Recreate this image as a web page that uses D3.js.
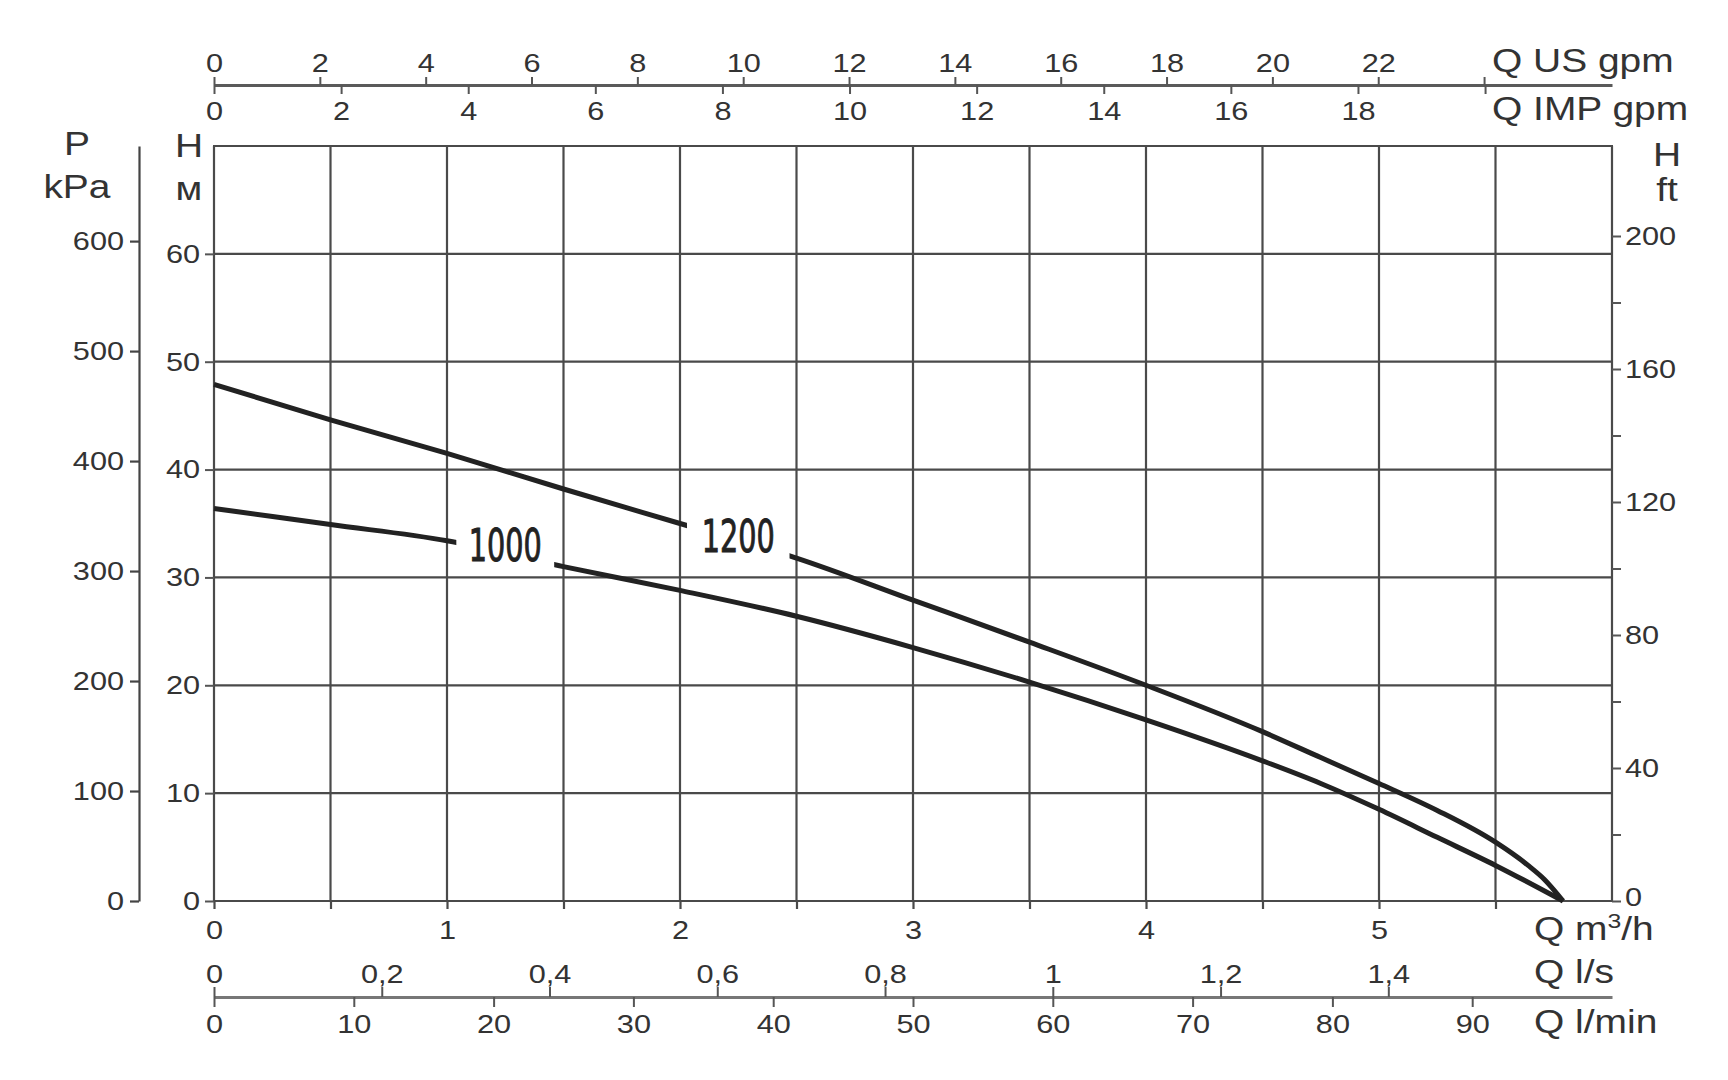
<!DOCTYPE html>
<html>
<head>
<meta charset="utf-8">
<script src="https://cdn.jsdelivr.net/npm/d3@7"></script>
<style>
  body { margin: 0; background: #fff; }
  svg text { font-family: "Liberation Sans", Arial, sans-serif; fill: #333; }
  .grid line { stroke: #4a4a4a; stroke-width: 2.2; }
  .axis path, .axis line { stroke: #555; }
  .axis text { font-size: 26px; }
  .unit { font-size: 33px; }
  .w-mid, .w-end, .w-start { transform-box: fill-box; transform: scaleX(1.18); }
  .w-mid { transform-origin: center; }
  .w-end { transform-origin: right center; }
  .w-start { transform-origin: left center; }
  .curve { fill: none; stroke: #222; stroke-width: 5; stroke-linecap: butt; }
  .curve-label { font-family: "Liberation Sans Narrow", "DejaVu Sans Condensed", sans-serif; font-size: 44px; fill: #222; stroke: #222; stroke-width: 0.9; }
</style>
</head>
<body>
<div id="chart"></div>
<script>
// pump curves, Q in m3/h, H in m
var flow1000 = [0, 0.5, 1, 1.5, 2, 2.5, 3, 3.5, 4, 4.5, 4.75, 5, 5.25, 5.5, 5.79];
var head1000 = [36.4, 34.9, 33.4, 31.0, 28.8, 26.4, 23.5, 20.3, 16.8, 13.0, 10.9, 8.5, 5.9, 3.3, 0];
var flow1200 = [0, 0.5, 1, 1.5, 2, 2.5, 3, 3.5, 4, 4.5, 4.75, 5, 5.25, 5.5, 5.64, 5.71, 5.79];
var head1200 = [47.9, 44.6, 41.5, 38.2, 35.0, 31.8, 27.9, 24.0, 20.0, 15.7, 13.3, 10.9, 8.4, 5.45, 3.3, 2.0, 0];

var curveNames = ["1000", "1200"];
var labelFlow = [1.25, 2.25];
var labelHead = [31.5, 32.4];
var gapFrom = [1.04, 2.03];
var gapTo = [1.46, 2.47];

// tick values
var flowGrid = [0, 0.5, 1, 1.5, 2, 2.5, 3, 3.5, 4, 4.5, 5, 5.5, 6];
var flowLabels = [0, 1, 2, 3, 4, 5];
var headGrid = [0, 10, 20, 30, 40, 50, 60, 70];
var headLabels = [0, 10, 20, 30, 40, 50, 60];
var kpaLabels = [0, 100, 200, 300, 400, 500, 600];
var ftTicks = [0, 20, 40, 60, 80, 100, 120, 140, 160, 180, 200];
var ftLabels = [0, 40, 80, 120, 160, 200];
var usGpmTicks = [0, 2, 4, 6, 8, 10, 12, 14, 16, 18, 20, 22, 24];
var usGpmLabels = [0, 2, 4, 6, 8, 10, 12, 14, 16, 18, 20, 22];
var impGpmTicks = [0, 2, 4, 6, 8, 10, 12, 14, 16, 18, 20];
var impGpmLabels = [0, 2, 4, 6, 8, 10, 12, 14, 16, 18];
var lsTicks = [0, 0.2, 0.4, 0.6, 0.8, 1, 1.2, 1.4];
var lminTicks = [0, 10, 20, 30, 40, 50, 60, 70, 80, 90];

var USGPM_PER_M3H = 4.4029;
var IMPGPM_PER_M3H = 3.6662;
var LS_PER_M3H = 1 / 3.6;
var LMIN_PER_M3H = 1000 / 60;
var KPA_PER_M = 9.80665;

/**
 * Pump chart
 * @param {Object} attrs
 *  @curves
 */
function PumpChart( attrs ) {
  'use strict';

  this.element = document.getElementById('chart');
  this.curves = (attrs && attrs.curves) ? attrs.curves : [];

  this.plot = {left: 214, right: 1612, top: 146, bottom: 901};
  this.qMax = 6;
  this.hMax = 70;

  this.x = d3.scaleLinear()
    .domain([0, this.qMax])
    .range([this.plot.left, this.plot.right]);

  this.y = d3.scaleLinear()
    .domain([0, this.hMax])
    .range([this.plot.bottom, this.plot.top]);

  this.svg = d3.select(this.element).append("svg")
    .attr("width", 1728)
    .attr("height", 1080);
}

PumpChart.prototype.secondary = function( factor ) {
  'use strict';
  return d3.scaleLinear()
    .domain([0, this.qMax * factor])
    .range(this.x.range());
};

PumpChart.prototype.draw = function() {
  'use strict';

  var self = this;
  var svg = this.svg;
  var p = this.plot;
  var commaFmt = d3.formatLocale({decimal: ",", thousands: " ", grouping: [3], currency: ["", ""]}).format(".1~f");

  svg.append("rect")
    .attr("width", 1728)
    .attr("height", 1080)
    .attr("fill", "#fff");

  // grid
  var grid = svg.append("g").attr("class", "grid");
  grid.selectAll("line.v")
    .data(flowGrid)
    .enter()
    .append("line")
    .attr("x1", function(d) { return self.x(d); })
    .attr("x2", function(d) { return self.x(d); })
    .attr("y1", p.top)
    .attr("y2", p.bottom);
  grid.selectAll("line.h")
    .data(headGrid)
    .enter()
    .append("line")
    .attr("x1", p.left - 1)
    .attr("x2", p.right + 1)
    .attr("y1", function(d) { return self.y(d); })
    .attr("y2", function(d) { return self.y(d); });

  // bottom m3/h
  var xAxis = svg.append("g")
    .attr("class", "axis")
    .attr("transform", "translate(0," + p.bottom + ")")
    .call(d3.axisBottom(this.x)
      .tickValues(flowGrid.slice(0, -1))
      .tickSize(8)
      .tickPadding(12)
      .tickFormat(function(d) { return flowLabels.indexOf(d) >= 0 ? d : ""; }));
  xAxis.select(".domain").remove();
  xAxis.selectAll("line").style("stroke", "#4a4a4a").style("stroke-width", 2.2);
  xAxis.selectAll("text").attr("class", "w-mid");

  // left H axis
  var yAxis = svg.append("g")
    .attr("class", "axis")
    .attr("transform", "translate(" + p.left + ",0)")
    .call(d3.axisLeft(this.y)
      .tickValues(headLabels)
      .tickSize(9)
      .tickPadding(5));
  yAxis.select(".domain").remove();
  yAxis.selectAll("line").style("stroke-width", 2);
  yAxis.selectAll("text").attr("class", "w-end");

  // pressure axis
  var yKpa = d3.scaleLinear()
    .domain([0, this.hMax * KPA_PER_M])
    .range([p.bottom, p.top]);
  var kpaAxis = svg.append("g")
    .attr("class", "axis")
    .attr("transform", "translate(139,0)")
    .call(d3.axisLeft(yKpa)
      .tickValues(kpaLabels)
      .tickSize(9)
      .tickSizeOuter(0)
      .tickPadding(6));
  kpaAxis.selectAll("path, line").style("stroke-width", 2.2).style("stroke", "#444");
  kpaAxis.selectAll("text").attr("class", "w-end");

  // right ft axis, drawn as printed on the sheet
  var yFt = d3.scaleLinear()
    .domain([0, 200])
    .range([p.bottom, 236]);
  var ftAxis = svg.append("g")
    .attr("class", "axis")
    .attr("transform", "translate(" + p.right + ",0)")
    .call(d3.axisRight(yFt)
      .tickValues(ftTicks)
      .tickSize(9)
      .tickPadding(4)
      .tickFormat(function(d) { return ftLabels.indexOf(d) >= 0 ? d : ""; }));
  ftAxis.select(".domain").remove();
  ftAxis.selectAll("line").style("stroke-width", 2);
  ftAxis.selectAll("text").attr("class", "w-start");
  ftAxis.selectAll(".tick")
    .filter(function(d) { return d === 0; })
    .select("text")
    .attr("dy", "0.18em");

  // top gpm axes
  var topY = 85;
  var usAxis = svg.append("g")
    .attr("class", "axis")
    .attr("transform", "translate(0," + topY + ")")
    .call(d3.axisTop(this.secondary(USGPM_PER_M3H))
      .tickValues(usGpmTicks)
      .tickSize(8)
      .tickSizeOuter(0)
      .tickPadding(5)
      .tickFormat(function(d) { return usGpmLabels.indexOf(d) >= 0 ? d : ""; }));
  usAxis.select(".domain").style("stroke", "#5a5a5a").style("stroke-width", 3);
  usAxis.selectAll("line").style("stroke-width", 2);
  usAxis.selectAll("text").attr("class", "w-mid");

  var impAxis = svg.append("g")
    .attr("class", "axis")
    .attr("transform", "translate(0," + topY + ")")
    .call(d3.axisBottom(this.secondary(IMPGPM_PER_M3H))
      .tickValues(impGpmTicks)
      .tickSize(9)
      .tickPadding(8)
      .tickFormat(function(d) { return impGpmLabels.indexOf(d) >= 0 ? d : ""; }));
  impAxis.select(".domain").remove();
  impAxis.selectAll("line").style("stroke-width", 2);
  impAxis.selectAll("text").attr("class", "w-mid");

  // bottom l/s and l/min axes
  var lowY = 997;
  var lsAxis = svg.append("g")
    .attr("class", "axis")
    .attr("transform", "translate(0," + lowY + ")")
    .call(d3.axisTop(this.secondary(LS_PER_M3H))
      .tickValues(lsTicks)
      .tickSize(10)
      .tickSizeOuter(0)
      .tickPadding(4)
      .tickFormat(commaFmt));
  lsAxis.select(".domain").style("stroke", "#777").style("stroke-width", 3);
  lsAxis.selectAll("line").style("stroke-width", 2);
  lsAxis.selectAll("text").attr("class", "w-mid");

  var lminAxis = svg.append("g")
    .attr("class", "axis")
    .attr("transform", "translate(0," + lowY + ")")
    .call(d3.axisBottom(this.secondary(LMIN_PER_M3H))
      .tickValues(lminTicks)
      .tickSize(10)
      .tickPadding(8));
  lminAxis.select(".domain").remove();
  lminAxis.selectAll("line").style("stroke-width", 2);
  lminAxis.selectAll("text").attr("class", "w-mid");

  // unit labels
  var units = [
    {t: "P", x: 77, y: 155, a: "middle"},
    {t: "kPa", x: 77, y: 198, a: "middle"},
    {t: "H", x: 189, y: 157, a: "middle"},
    {t: "м", x: 189, y: 200, a: "middle"},
    {t: "H", x: 1667, y: 166, a: "middle"},
    {t: "ft", x: 1667, y: 201, a: "middle"},
    {t: "Q US gpm", x: 1492, y: 72, a: "start"},
    {t: "Q IMP gpm", x: 1492, y: 120, a: "start"},
    {t: "Q l/s", x: 1534, y: 983, a: "start"},
    {t: "Q l/min", x: 1534, y: 1033, a: "start"}
  ];
  svg.selectAll("text.unit")
    .data(units)
    .enter()
    .append("text")
    .attr("class", function(d) { return "unit " + (d.a === "start" ? "w-start" : "w-mid"); })
    .attr("x", function(d) { return d.x; })
    .attr("y", function(d) { return d.y; })
    .attr("text-anchor", function(d) { return d.a; })
    .text(function(d) { return d.t; });

  var qm = svg.append("text")
    .attr("class", "unit w-start")
    .attr("x", 1534)
    .attr("y", 940);
  qm.append("tspan").text("Q m");
  qm.append("tspan").attr("dy", -12).style("font-size", "21px").text("3");
  qm.append("tspan").attr("dy", 12).text("/h");

  // curves
  var line = d3.line()
    .x(function(d) { return self.x(d.q); })
    .y(function(d) { return self.y(d.h); })
    .curve(d3.curveMonotoneX);

  var defs = svg.append("defs");
  this.curves.forEach(function(c, i) {
    var mask = defs.append("mask")
      .attr("id", "gap" + i)
      .attr("maskUnits", "userSpaceOnUse")
      .attr("x", 0).attr("y", 0)
      .attr("width", 1728).attr("height", 1080);
    mask.append("rect")
      .attr("width", 1728).attr("height", 1080)
      .attr("fill", "#fff");
    mask.append("rect")
      .attr("x", self.x(gapFrom[i]))
      .attr("width", self.x(gapTo[i]) - self.x(gapFrom[i]))
      .attr("y", 0).attr("height", 1080)
      .attr("fill", "#000");

    var pts = c.flow.map(function(q, j) { return {q: q, h: c.head[j]}; });
    svg.append("path")
      .datum(pts)
      .attr("class", "curve")
      .attr("mask", "url(#gap" + i + ")")
      .attr("d", line);

    svg.append("text")
      .attr("class", "curve-label")
      .attr("x", self.x(labelFlow[i]))
      .attr("y", self.y(labelHead[i]))
      .attr("text-anchor", "middle")
      .attr("textLength", 73)
      .attr("lengthAdjust", "spacingAndGlyphs")
      .text(c.name);
  });
};

var chart = new PumpChart({
  curves: [
    {name: curveNames[0], flow: flow1000, head: head1000},
    {name: curveNames[1], flow: flow1200, head: head1200}
  ]
});
chart.draw();
</script>
</body>
</html>
